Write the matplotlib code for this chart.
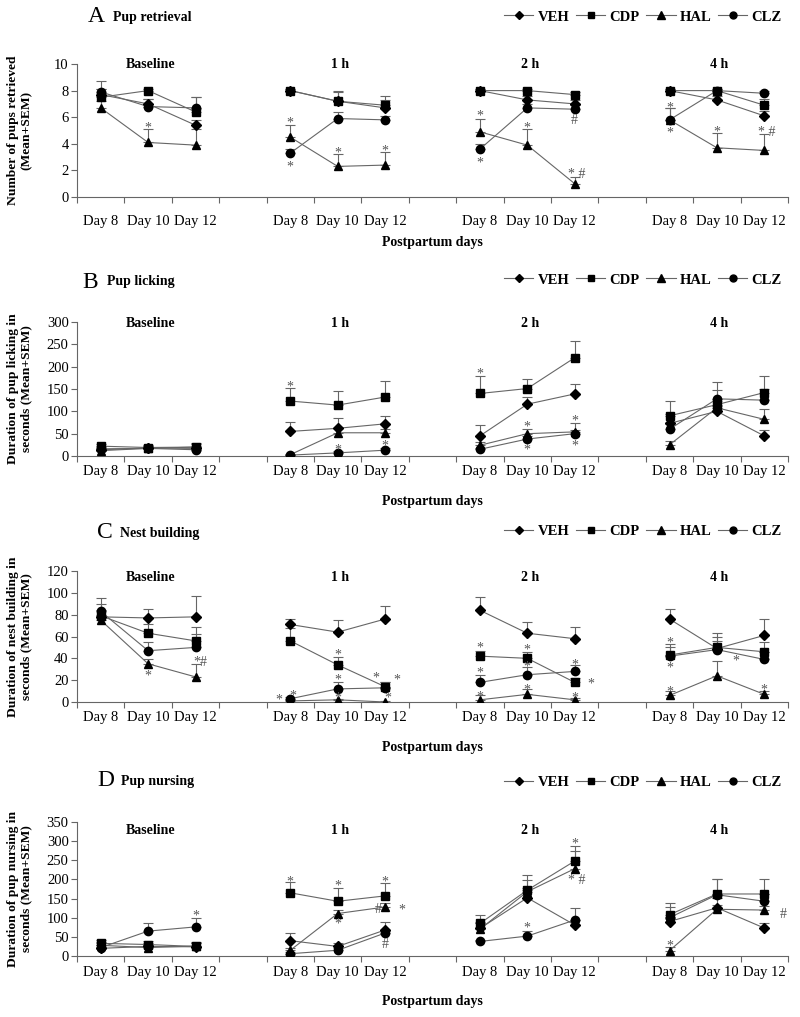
import numpy as np
import matplotlib.pyplot as plt
from matplotlib.lines import Line2D

plt.rcParams['font.family'] = ['Liberation Serif', 'DejaVu Serif']

days = ["Day 8", "Day 10", "Day 12"]
groups = ["Baseline", "1 h", "2 h", "4 h"]
drugs = ["VEH", "CDP", "HAL", "CLZ"]

# values in order: Baseline D8 D10 D12, 1 h D8 D10 D12, 2 h ..., 4 h ...
# A  pup retrieval
ret_veh = [7.7, 7.0, 5.4, 8.0, 7.2, 6.7, 8.0, 7.3, 7.0, 8.0, 7.3, 6.1]
ret_cdp = [7.5, 8.0, 6.4, 8.0, 7.2, 6.9, 8.0, 8.0, 7.7, 8.0, 8.0, 6.9]
ret_hal = [6.7, 4.1, 3.9, 4.5, 2.3, 2.4, 4.9, 3.9, 1.0, 5.8, 3.7, 3.5]
ret_clz = [7.9, 6.8, 6.7, 3.3, 5.9, 5.8, 3.6, 6.7, 6.6, 5.8, 8.0, 7.8]
ret_veh_sem = [0.4, 0.4, 0.4, 0.1, 0.7, 0.6, 0.1, 0.3, 0.3, 0.1, 0.3, 0.4]
ret_cdp_sem = [0.6, 0.1, 1.1, 0.1, 0.8, 0.7, 0.1, 0.1, 0.2, 0.1, 0.1, 0.5]
ret_hal_sem = [0.5, 1.0, 1.2, 0.9, 0.9, 1.0, 1.0, 1.2, 0.5, 0.9, 1.1, 1.2]
ret_clz_sem = [0.8, 0.6, 0.8, 0.3, 0.5, 0.3, 0.4, 0.3, 0.3, 0.9, 0.1, 0.2]

# B  pup licking
lick_veh = [14, 18, 17, 55, 62, 72, 45, 116, 139, 73, 100, 45]
lick_cdp = [22, 19, 20, 123, 114, 132, 140, 151, 220, 90, 115, 142]
lick_hal = [12, 17, 20, 3, 52, 52, 24, 50, 54, 25, 108, 82]
lick_clz = [16, 17, 14, 2, 7, 13, 15, 38, 50, 60, 128, 125]
lick_veh_sem = [5, 5, 5, 22, 23, 18, 25, 15, 23, 20, 12, 13]
lick_cdp_sem = [4, 6, 10, 30, 31, 35, 38, 21, 38, 33, 33, 36]
lick_hal_sem = [4, 5, 6, 2, 10, 8, 8, 10, 20, 8, 15, 23]
lick_clz_sem = [4, 5, 6, 1, 5, 6, 4, 6, 8, 12, 37, 25]

# C  nest building
nest_veh = [78, 77, 78, 71, 64, 76, 84, 63, 58, 76, 49, 61]
nest_cdp = [79, 63, 56, 56, 34, 14, 42, 40, 18, 43, 50, 46]
nest_hal = [75, 35, 23, 1, 2, 0, 2, 7, 2, 6, 24, 7]
nest_clz = [83, 47, 50, 3, 12, 13, 18, 25, 28, 42, 48, 39]
nest_veh_sem = [12, 8, 19, 5, 11, 12, 12, 10, 11, 9, 14, 15]
nest_cdp_sem = [5, 8, 13, 12, 7, 4, 5, 6, 4, 10, 10, 9]
nest_hal_sem = [5, 4, 12, 1, 1, 1, 4, 5, 2, 4, 14, 3]
nest_clz_sem = [12, 8, 12, 2, 6, 5, 7, 7, 6, 8, 8, 7]

# D  pup nursing
nurs_veh = [20, 25, 24, 40, 25, 68, 72, 152, 81, 90, 126, 73]
nurs_cdp = [33, 30, 25, 165, 143, 157, 85, 172, 248, 108, 162, 162]
nurs_hal = [28, 22, 26, 15, 111, 128, 70, 168, 228, 14, 122, 120]
nurs_clz = [22, 65, 76, 6, 15, 60, 38, 52, 94, 100, 160, 143]
nurs_veh_sem = [8, 8, 10, 20, 8, 20, 15, 25, 12, 12, 25, 12]
nurs_cdp_sem = [10, 8, 12, 27, 35, 33, 22, 40, 40, 30, 40, 38]
nurs_hal_sem = [8, 6, 8, 6, 10, 10, 20, 30, 45, 10, 10, 10]
nurs_clz_sem = [8, 22, 24, 4, 6, 5, 5, 12, 32, 27, 40, 20]

# significance marks: (slot, y, text, x shift)
ret_notes = [(1, 5.5, "*", 0), (3, 5.9, "*", 0), (3, 2.6, "*", 0), (4, 3.6, "*", 0),
             (5, 3.8, "*", 0), (6, 6.4, "*", 0), (6, 2.9, "*", 0), (7, 5.5, "*", 0),
             (8, 2.0, "* #", 0.05), (8, 6.1, "#", 0), (9, 7.0, "*", 0), (9, 5.1, "*", 0),
             (10, 5.2, "*", 0), (11, 5.2, "* #", 0.05)]
lick_notes = [(3, 164, "*", 0), (4, 22, "*", 0), (5, 32, "*", 0), (6, 192, "*", 0),
              (7, 74, "*", 0), (7, 23, "*", 0), (8, 88, "*", 0), (8, 32, "*", 0)]
nest_notes = [(1, 28, "*", 0), (2, 40, "*#", 0.1), (3, 6, "*", -0.25), (3, 9, "*", 0.05),
              (4, 47, "*", 0), (4, 24, "*", 0), (4, 7, "*", 0),
              (5, 26, "*", -0.2), (5, 24, "*", 0.25), (5, 7, "*", 0.05),
              (6, 53, "*", 0), (6, 30, "*", 0), (6, 8, "*", 0),
              (7, 51, "*", 0), (7, 36, "*", 0), (7, 15, "*", 0),
              (8, 38, "*", 0), (8, 20, "*", 0.35), (8, 7, "*", 0),
              (9, 58, "*", 0), (9, 35, "*", 0), (9, 13, "*", 0),
              (10, 41, "*", 0.4), (11, 15, "*", 0)]
nurs_notes = [(2, 114, "*", 0), (3, 204, "*", 0), (4, 194, "*", 0), (4, 94, "*", 0),
              (5, 204, "*", 0), (5, 133, "#", -0.15), (5, 130, "*", 0.35), (5, 42, "#", 0),
              (7, 85, "*", 0), (8, 304, "*", 0), (8, 207, "* #", 0.05),
              (9, 37, "*", 0), (11, 120, "#", 0.4)]

panels = [
    ("A", "Pup retrieval", "Number of pups retrieved\n(Mean+SEM)",
     [ret_veh, ret_cdp, ret_hal, ret_clz], [ret_veh_sem, ret_cdp_sem, ret_hal_sem, ret_clz_sem],
     10, 2, ret_notes),
    ("B", "Pup licking", "Duration of pup licking in\nseconds (Mean+SEM)",
     [lick_veh, lick_cdp, lick_hal, lick_clz], [lick_veh_sem, lick_cdp_sem, lick_hal_sem, lick_clz_sem],
     300, 50, lick_notes),
    ("C", "Nest building", "Duration of nest building in\nseconds (Mean+SEM)",
     [nest_veh, nest_cdp, nest_hal, nest_clz], [nest_veh_sem, nest_cdp_sem, nest_hal_sem, nest_clz_sem],
     120, 20, nest_notes),
    ("D", "Pup nursing", "Duration of pup nursing in\nseconds (Mean+SEM)",
     [nurs_veh, nurs_cdp, nurs_hal, nurs_clz], [nurs_veh_sem, nurs_cdp_sem, nurs_hal_sem, nurs_clz_sem],
     350, 50, nurs_notes),
]

# layout in pixels (axis top, axis bottom, heading y, legend y, tick pad, title y frac)
W, H = 800, 1017
boxes = [(64, 197, 17, 17, 9, 1.0), (322, 456, 282, 280, 2.5, 0.99),
         (571, 702, 533, 531, 2.5, 0.947), (822, 956, 781, 782, 3, 0.94)]
letter_x = [88, 82, 97, 97]
head_x = [113, 107, 120, 121]

markers = ["D", "s", "^", "o"]
msizes = [5, 6, 6.3, 6]
lc = "#666666"

fig = plt.figure(figsize=(W / 100, H / 100), dpi=100)

for p, (letter, title, ylab, means, sems, ymax, ystep, notes) in enumerate(panels):
    top, bot, hy, ly, pad, ty = boxes[p]
    ax = fig.add_axes([77 / W, 1 - bot / H, 711 / W, (bot - top) / H])
    for k in range(4):
        m = np.array(means[k], dtype=float)
        s = np.array(sems[k], dtype=float)
        for g in range(4):
            xs = np.arange(3) + g * 4 + 0.5
            ys = m[g * 3:g * 3 + 3]
            es = s[g * 3:g * 3 + 3]
            ax.errorbar(xs, ys, yerr=[np.zeros(3), es], fmt="none", ecolor=lc,
                        elinewidth=0.8, capsize=3.5, capthick=0.8, zorder=1)
            ax.plot(xs, ys, color=lc, lw=0.8, zorder=2)
            ax.plot(xs, ys, ls="none", marker=markers[k], ms=msizes[k],
                    mfc="black", mec="black", zorder=3)
    for slot, y, txt, dx in notes:
        g, d = divmod(slot, 3)
        ax.annotate(txt, (g * 4 + d + 0.5 + dx, y), xytext=(0, -3), textcoords="offset points",
                    ha="center", va="center", fontsize=10, color="#555555")

    ax.set_xlim(0, 15)
    ax.set_ylim(0, ymax)
    ax.set_yticks(np.arange(0, ymax + 1, ystep))
    ax.set_xticks(np.arange(16))
    ax.set_xticklabels([])
    ax.set_xticks([g * 4 + d + 0.5 for g in range(4) for d in range(3)], minor=True)
    ax.set_xticklabels(days * 4, minor=True, fontsize=10.5)
    ax.tick_params(axis="x", which="major", direction="out", length=4, color=lc)
    ax.tick_params(axis="x", which="minor", length=0, pad=pad + 4)
    ax.tick_params(axis="y", direction="out", length=4, color=lc, labelsize=10.5, pad=2)
    for side in ["top", "right"]:
        ax.spines[side].set_visible(False)
    for side in ["left", "bottom"]:
        ax.spines[side].set_color(lc)
        ax.spines[side].set_linewidth(0.8)

    for g, name in enumerate(groups):
        ax.text(g * 4 + 1.55, ty * ymax, name, ha="center", va="center",
                fontsize=10, fontweight="bold")

    ax.set_ylabel(ylab, fontsize=9.7, fontweight="bold", linespacing=1.15)
    ax.yaxis.set_label_coords(-0.063, 0.5)
    ax.set_xlabel("Postpartum days", fontsize=10, fontweight="bold")
    ax.xaxis.set_label_coords(0.5, -39 / (bot - top))

    handles = [Line2D([], [], color=lc, lw=0.8, marker=markers[k], ms=msizes[k] - 1,
                      mfc="black", mec="black") for k in range(4)]
    ax.legend(handles, drugs, ncol=4, loc="center right",
              bbox_to_anchor=(1.01, (bot - ly) / (bot - top)), frameon=False,
              handlelength=2.0, handletextpad=0.3, columnspacing=0.45,
              prop=dict(family="Liberation Serif", weight="bold", size=10.5))

    fig.text(letter_x[p] / W, 1 - hy / H, letter, fontsize=17, va="center", ha="left")
    fig.text(head_x[p] / W, 1 - hy / H, title, fontsize=10, fontweight="bold",
             va="center", ha="left")

fig.savefig("out.png", dpi=100)
